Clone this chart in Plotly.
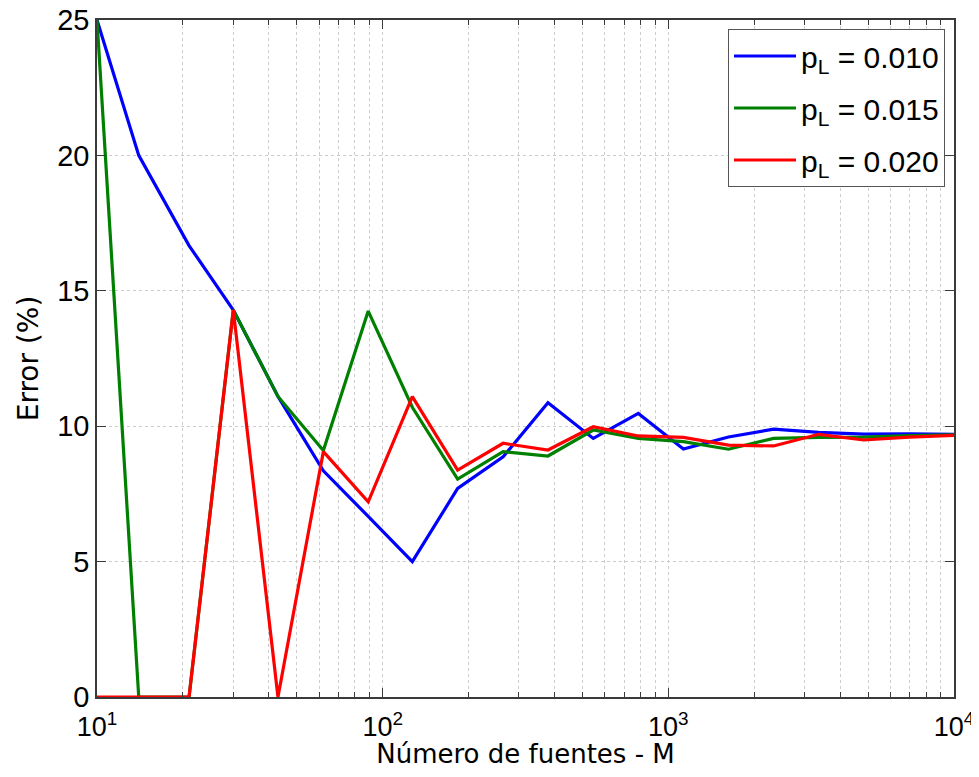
import plotly.graph_objects as go

M = [10, 14, 21, 30, 43, 62, 89, 127, 183, 264, 379, 546, 785, 1129, 1624, 2336, 3360, 4833, 6952, 10000]

err_p010 = [25.0, 20.0, 16.67, 14.29, 11.1, 8.35, 6.67, 5.0, 7.7, 8.87, 10.87, 9.55, 10.47, 9.16,
            9.6, 9.89, 9.77, 9.71, 9.72, 9.7]
err_p015 = [25.0, 0.0, 0.0, 14.29, 11.1, 9.1, 14.25, 10.7, 8.05, 9.06, 8.9, 9.86, 9.55, 9.43,
            9.15, 9.55, 9.59, 9.6, 9.65, 9.68]
err_p020 = [0.0, 0.0, 0.0, 14.29, 0.0, 9.06, 7.21, 11.09, 8.38, 9.37, 9.12, 9.98, 9.64, 9.59,
            9.3, 9.27, 9.7, 9.49, 9.6, 9.66]

series_names = ["p<sub>L</sub> = 0.010", "p<sub>L</sub> = 0.015", "p<sub>L</sub> = 0.020"]
series_colors = ["#0000ff", "#008000", "#ff0000"]

x_tickvals = [10, 100, 1000, 10000]
x_ticktext = ["10<sup>1</sup>", "10<sup>2</sup>", "10<sup>3</sup>", "10<sup>4</sup>"]
y_tickvals = [0, 5, 10, 15, 20, 25]

minor_vals = [m * 10 ** k for k in range(1, 4) for m in range(2, 10)]

fig = go.Figure()
for i, (name, ys, col) in enumerate(zip(series_names, [err_p010, err_p015, err_p020], series_colors)):
    fig.add_trace(go.Scatter(x=M, y=ys, mode="lines", name=name,
                             line=dict(color=col, width=3.2), legendgroup=str(i)))

axis_color = "#3a3a3a"
grid_color = "#cccccc"
ytick_font = dict(family="Liberation Sans, Arial, sans-serif", size=29, color="black")
xtick_font = dict(family="Liberation Sans, Arial, sans-serif", size=27, color="black")

fig.update_layout(
    width=971, height=761,
    margin=dict(l=89, r=25, t=12, b=72),
    paper_bgcolor="white", plot_bgcolor="white",
    showlegend=True,
    legend=dict(x=0.9895, y=0.9867, xanchor="right", yanchor="top",
                bgcolor="white", bordercolor="#555", borderwidth=1,
                font=dict(family="Liberation Sans, Arial, sans-serif", size=30, color="black"),
                itemwidth=62, tracegroupgap=10),
    xaxis=dict(type="log", range=[1, 4], automargin=False, ticklabeloverflow="allow",
               tickvals=x_tickvals, ticktext=x_ticktext,
               ticks="inside", ticklen=9, tickcolor=axis_color,
               showline=True, linecolor=axis_color, linewidth=1.5, mirror="allticks",
               showgrid=True, gridcolor=grid_color, griddash="dot", gridwidth=1,
               minor=dict(tickvals=minor_vals, ticks="inside", ticklen=5, tickcolor=axis_color,
                          showgrid=True, gridcolor=grid_color, griddash="dot", gridwidth=1),
               tickfont=xtick_font, zeroline=False, ticklabelstandoff=5,
               title=dict(text="Número de fuentes - M", standoff=0,
                          font=dict(family="DejaVu Sans, sans-serif", size=26, color="black"))),
    yaxis=dict(range=[0, 25], tickvals=y_tickvals, automargin=False, ticklabeloverflow="allow",
               ticks="inside", ticklen=9, tickcolor=axis_color,
               showline=True, linecolor=axis_color, linewidth=1.5, mirror="allticks",
               showgrid=True, gridcolor=grid_color, griddash="dot", gridwidth=1,
               tickfont=ytick_font, zeroline=False,
               title=dict(text="Error (%)", standoff=10,
                          font=dict(family="DejaVu Sans, sans-serif", size=28, color="black"))),
)

fig.write_html("out.html")
